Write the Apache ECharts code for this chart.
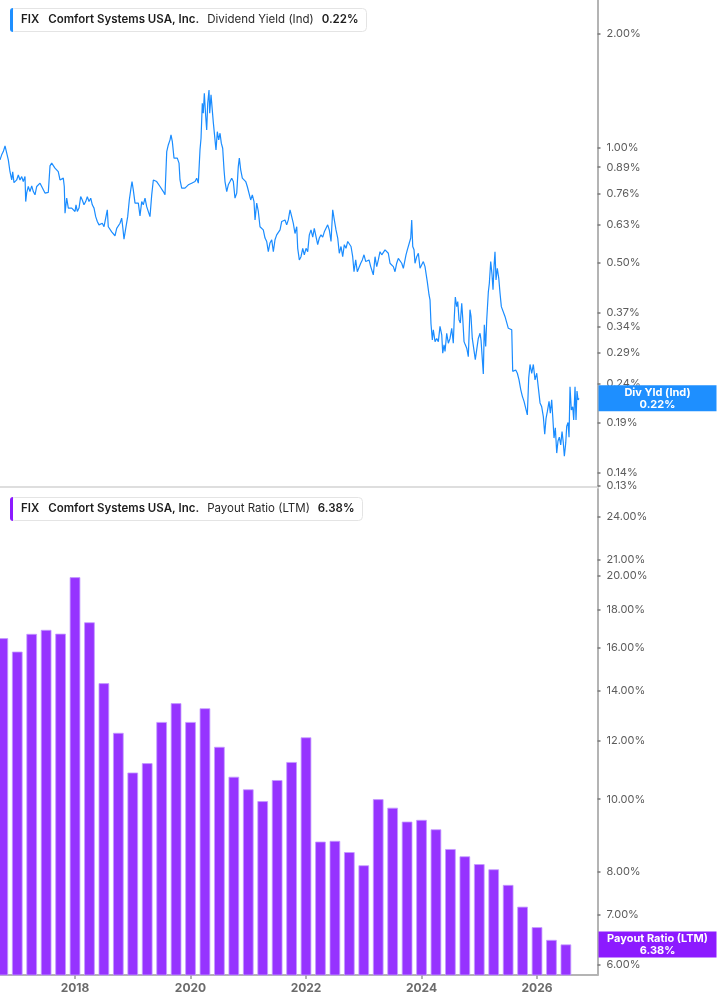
<!DOCTYPE html>
<html>
<head>
<meta charset="utf-8">
<script src="https://cdn.jsdelivr.net/npm/echarts@6/dist/echarts.min.js"></script>
<style>
html,body{margin:0;padding:0;background:#fff;}
#chart{width:717px;height:1005px;}
</style>
</head>
<body>
<div id="chart"></div>
<script>
// ---------- DATA ----------
const ticker = 'FIX';
const company = 'Comfort Systems USA, Inc.';
const yieldName = 'Dividend Yield (Ind)';
const yieldShort = 'Div Yld (Ind)';
const payoutName = 'Payout Ratio (LTM)';

// x positions are decimal years
const divYieldDates = [
2016.701,2016.730,2016.758,2016.788,2016.817,2016.845,2016.874,2016.904,2016.921,2016.943,
2016.990,2017.018,2017.047,2017.077,2017.104,2017.134,2017.146,2017.163,2017.191,2017.220,
2017.250,2017.278,2017.307,2017.337,2017.364,2017.394,2017.423,2017.451,2017.480,2017.510,
2017.537,2017.567,2017.596,2017.624,2017.653,2017.683,2017.710,2017.740,2017.769,2017.797,
2017.814,2017.827,2017.856,2017.884,2017.913,2017.943,2017.970,2018.000,2018.017,2018.040,
2018.069,2018.098,2018.126,2018.155,2018.185,2018.213,2018.242,2018.272,2018.299,2018.329,
2018.358,2018.386,2018.415,2018.445,2018.472,2018.502,2018.531,2018.559,2018.576,2018.606,
2018.635,2018.663,2018.692,2018.722,2018.750,2018.779,2018.808,2018.826,2018.848,2018.883,
2018.912,2018.940,2018.969,2018.987,2019.009,2019.039,2019.068,2019.096,2019.125,2019.155,
2019.182,2019.212,2019.241,2019.269,2019.298,2019.328,2019.356,2019.385,2019.414,2019.442,
2019.472,2019.501,2019.529,2019.558,2019.575,2019.588,2019.615,2019.645,2019.662,2019.685,
2019.714,2019.743,2019.771,2019.801,2019.818,2019.847,2019.875,2019.904,2019.934,2019.962,
2019.991,2020.020,2020.048,2020.078,2020.107,2020.135,2020.164,2020.182,2020.204,2020.221,
2020.239,2020.263,2020.280,2020.298,2020.320,2020.332,2020.355,2020.395,2020.424,2020.441,
2020.464,2020.488,2020.511,2020.533,2020.557,2020.580,2020.597,2020.627,2020.654,2020.684,
2020.713,2020.741,2020.770,2020.800,2020.827,2020.845,2020.869,2020.897,2020.926,2020.956,
2020.983,2021.013,2021.042,2021.070,2021.099,2021.117,2021.146,2021.174,2021.203,2021.233,
2021.260,2021.290,2021.319,2021.347,2021.376,2021.406,2021.434,2021.463,2021.492,2021.520,
2021.550,2021.579,2021.607,2021.636,2021.665,2021.693,2021.723,2021.752,2021.780,2021.809,
2021.839,2021.856,2021.884,2021.913,2021.943,2021.970,2022.000,2022.029,2022.057,2022.086,
2022.116,2022.143,2022.173,2022.202,2022.230,2022.259,2022.289,2022.317,2022.346,2022.375,
2022.403,2022.433,2022.462,2022.490,2022.519,2022.549,2022.576,2022.606,2022.635,2022.663,
2022.692,2022.722,2022.750,2022.779,2022.808,2022.831,2022.860,2022.888,2022.918,2022.947,
2022.975,2023.004,2023.034,2023.061,2023.091,2023.120,2023.148,2023.165,2023.195,2023.224,
2023.252,2023.281,2023.311,2023.338,2023.368,2023.397,2023.425,2023.454,2023.484,2023.512,
2023.541,2023.570,2023.598,2023.627,2023.657,2023.685,2023.714,2023.731,2023.754,2023.783,
2023.813,2023.830,2023.848,2023.870,2023.887,2023.917,2023.945,2023.974,2024.003,2024.031,
2024.060,2024.078,2024.100,2024.130,2024.147,2024.164,2024.187,2024.204,2024.234,2024.263,
2024.291,2024.320,2024.350,2024.367,2024.390,2024.407,2024.436,2024.464,2024.493,2024.523,
2024.550,2024.568,2024.585,2024.609,2024.627,2024.649,2024.672,2024.696,2024.713,2024.736,
2024.758,2024.783,2024.810,2024.839,2024.857,2024.879,2024.909,2024.931,2024.955,2024.983,
2025.013,2025.030,2025.053,2025.070,2025.087,2025.111,2025.129,2025.157,2025.174,2025.198,
2025.221,2025.238,2025.255,2025.272,2025.290,2025.312,2025.337,2025.359,2025.382,2025.416,
2025.445,2025.475,2025.503,2025.532,2025.562,2025.579,2025.601,2025.631,2025.659,2025.688,
2025.718,2025.745,2025.775,2025.803,2025.832,2025.856,2025.879,2025.908,2025.936,2025.965,
2025.995,2026.022,2026.052,2026.081,2026.109,2026.133,2026.156,2026.178,2026.208,2026.230,
2026.254,2026.272,2026.294,2026.317,2026.341,2026.363,2026.386,2026.410,2026.433,2026.455,
2026.473,2026.497,2026.514,2026.537,2026.554,2026.571,2026.594,2026.618,2026.635,2026.658,
2026.675,2026.692,2026.710,2026.727
];
// dividend yield, percent
const divYieldValues = [
0.930,0.959,0.978,1.012,1.000,0.930,0.866,0.824,0.866,0.811,
0.824,0.849,0.824,0.841,0.816,0.841,0.723,0.762,0.792,0.768,
0.795,0.768,0.753,0.792,0.795,0.808,0.792,0.784,0.761,0.768,
0.764,0.897,0.912,0.902,0.885,0.876,0.866,0.824,0.816,0.833,
0.792,0.674,0.738,0.695,0.701,0.695,0.688,0.681,0.709,0.681,
0.695,0.745,0.730,0.709,0.723,0.745,0.723,0.738,0.709,0.695,
0.660,0.641,0.628,0.621,0.634,0.621,0.621,0.688,0.621,0.615,
0.602,0.596,0.588,0.615,0.609,0.634,0.654,0.621,0.576,0.621,
0.660,0.730,0.784,0.816,0.776,0.716,0.709,0.716,0.663,0.723,
0.709,0.738,0.701,0.695,0.660,0.753,0.824,0.833,0.816,0.824,
0.792,0.784,0.768,0.753,0.761,0.978,1.018,1.050,1.082,1.039,
0.940,0.930,0.940,0.912,0.824,0.784,0.792,0.784,0.792,0.800,
0.792,0.808,0.800,0.816,0.833,0.808,0.988,1.060,1.310,1.233,
1.392,1.209,1.115,1.310,1.420,1.233,1.378,1.165,1.050,0.988,
1.103,1.050,1.093,1.029,0.998,0.876,0.816,0.768,0.800,0.816,
0.833,0.816,0.738,0.761,0.893,0.940,0.876,0.833,0.824,0.816,
0.792,0.792,0.730,0.753,0.723,0.647,0.716,0.681,0.621,0.615,
0.609,0.580,0.568,0.534,0.563,0.574,0.534,0.574,0.591,0.591,
0.609,0.641,0.634,0.647,0.628,0.647,0.688,0.660,0.634,0.596,
0.621,0.545,0.508,0.518,0.545,0.524,0.545,0.534,0.591,0.609,
0.583,0.615,0.621,0.557,0.580,0.591,0.583,0.602,0.615,0.628,
0.609,0.568,0.688,0.647,0.609,0.580,0.529,0.551,0.518,0.557,
0.545,0.568,0.574,0.551,0.518,0.473,0.508,0.473,0.478,0.498,
0.508,0.524,0.503,0.498,0.508,0.488,0.473,0.464,0.518,0.488,
0.508,0.534,0.524,0.529,0.540,0.545,0.529,0.498,0.493,0.488,
0.473,0.498,0.513,0.508,0.498,0.483,0.478,0.524,0.540,0.540,
0.580,0.647,0.551,0.540,0.498,0.518,0.529,0.483,0.488,0.503,
0.488,0.493,0.445,0.411,0.399,0.345,0.313,0.333,0.310,0.316,
0.310,0.340,0.323,0.289,0.304,0.292,0.326,0.307,0.316,0.336,
0.307,0.361,0.406,0.383,0.395,0.354,0.347,0.391,0.358,0.310,
0.304,0.298,0.283,0.376,0.361,0.316,0.313,0.278,0.295,0.316,
0.326,0.313,0.278,0.255,0.343,0.301,0.354,0.419,0.441,0.503,
0.464,0.424,0.488,0.534,0.450,0.483,0.455,0.416,0.383,0.380,
0.361,0.365,0.336,0.336,0.333,0.259,0.256,0.261,0.256,0.246,
0.232,0.223,0.216,0.214,0.199,0.249,0.270,0.256,0.270,0.246,
0.256,0.235,0.214,0.209,0.197,0.177,0.195,0.203,0.216,0.201,
0.218,0.197,0.173,0.184,0.158,0.170,0.174,0.166,0.180,0.168,
0.155,0.168,0.186,0.190,0.174,0.236,0.205,0.209,0.193,0.236,
0.193,0.230,0.218,0.220
];

// quarterly payout ratio (LTM), percent
const payoutDates = [
2016.75,2017.00,2017.25,2017.50,2017.75,2018.00,2018.25,2018.50,2018.75,2019.00,
2019.25,2019.50,2019.75,2020.00,2020.25,2020.50,2020.75,2021.00,2021.25,2021.50,
2021.75,2022.00,2022.25,2022.50,2022.75,2023.00,2023.25,2023.50,2023.75,2024.00,
2024.25,2024.50,2024.75,2025.00,2025.25,2025.50,2025.75,2026.00,2026.25,2026.50
];
const payoutValues = [
16.46,15.79,16.68,16.89,16.69,19.88,17.29,14.32,12.28,10.86,
11.18,12.70,13.46,12.70,13.25,11.76,10.72,10.31,9.94,10.61,
11.22,12.11,8.77,8.79,8.49,8.15,10.00,9.74,9.33,9.38,
9.11,8.57,8.38,8.18,8.05,7.67,7.17,6.73,6.47,6.38
];

// tick labels
const yearTicks = [2018, 2020, 2022, 2024, 2026];
const yieldTicks = [0.13, 0.14, 0.19, 0.24, 0.29, 0.34, 0.37, 0.50, 0.63, 0.76, 0.89, 1.00, 2.00];
const payoutTicks = [6, 7, 8, 10, 12, 14, 16, 18, 20, 21, 24];

// axis ranges
const xMin = 2016.701, xMax = 2027.047;
const yieldMin = 0.1287, yieldMax = 2.446;
const payoutMin = 5.804, payoutMax = 26.12;

// ---------- STYLE ----------
const FONT = 'Inter, "Noto Sans", "DejaVu Sans", sans-serif';
const BLUE = '#1a8cff';
const BLUE_TAG = '#1e8fff';
const PURPLE = '#9633ff';
const PURPLE_TAG = '#8c1aff';
const AXIS_GRAY = '#b4b4b4';

const lastYield = divYieldValues[divYieldValues.length - 1];
const lastYieldDate = divYieldDates[divYieldDates.length - 1];
const lastPayout = payoutValues[payoutValues.length - 1];
const lastPayoutDate = payoutDates[payoutDates.length - 1];

function pct(v) { return v.toFixed(2) + '%'; }

function headerTitle(color, measure, value, top) {
  const fs = 11.5;
  return {
    left: 10, top: top,
    text: '{bar| }{tk|' + ticker + '}{nm|' + company + '}{ms|' + measure + '}{val|' + value + '}',
    backgroundColor: '#fff',
    borderColor: '#e4e4e4', borderWidth: 1, borderRadius: 4,
    padding: [0, 8, 0, 0],
    textStyle: {
      fontFamily: FONT,
      rich: {
        bar: { width: 3, height: 24, backgroundColor: color, borderRadius: [3, 0, 0, 3] },
        tk: { fontFamily: FONT, fontSize: fs, fontWeight: 600, color: '#1d1d1d', padding: [0, 0, 0, 8] },
        nm: { fontFamily: FONT, fontSize: fs, fontWeight: 600, color: '#1d1d1d', padding: [0, 0, 0, 9] },
        ms: { fontFamily: FONT, fontSize: fs, fontWeight: 'normal', color: '#2a2a2a', padding: [0, 0, 0, 8] },
        val: { fontFamily: FONT, fontSize: fs, fontWeight: 600, color: '#1d1d1d', padding: [0, 0, 0, 8] }
      }
    }
  };
}

// price-tag style label at the right edge, anchored on the latest value
function tagSeries(xIdx, yIdx, date, value, name, bg) {
  return {
    type: 'line',
    xAxisIndex: xIdx, yAxisIndex: yIdx,
    data: [[date, value]],
    symbol: 'none', showSymbol: false,
    lineStyle: { color: 'rgba(0,0,0,0)', width: 0 },
    silent: true,
    clip: false,
    z: 10,
    markLine: {
      silent: true,
      symbol: ['none', 'none'],
      animation: false,
      lineStyle: { color: 'rgba(0,0,0,0)', width: 0, opacity: 1 },
      data: [{ yAxis: value }],
      label: {
        show: true,
        opacity: 1,
        position: 'end',
        distance: 1,
        formatter: '{t|' + name + '}\n{t|' + pct(value) + '}',
        backgroundColor: bg,
        padding: [1, 0, 1, 0],
        rich: {
          t: { fontFamily: FONT, color: '#fff', fontWeight: 'bold', fontSize: 11, lineHeight: 12, align: 'center', width: 118 }
        }
      }
    }
  };
}

const chart = echarts.init(document.getElementById('chart'), null, { renderer: 'canvas' });

const option = {
  animation: false,
  backgroundColor: '#ffffff',
  textStyle: { fontFamily: FONT },
  title: [
    headerTitle(BLUE_TAG, yieldName, pct(lastYield), 8),
    headerTitle(PURPLE_TAG, payoutName, pct(lastPayout), 497)
  ],
  grid: [
    { left: 0, right: 119.5, top: 0, height: 487, outerBoundsMode: 'none', containLabel: false },
    { left: 0, right: 119.5, top: 489, bottom: 30, outerBoundsMode: 'none', containLabel: false }
  ],
  xAxis: [
    {
      gridIndex: 0, type: 'value', min: xMin, max: xMax,
      axisLine: { show: true, onZero: false, lineStyle: { color: '#dedede', width: 2 } },
      axisTick: { show: false }, axisLabel: { show: false }, splitLine: { show: false }
    },
    {
      gridIndex: 1, type: 'value', min: xMin, max: xMax,
      axisLine: { show: true, onZero: false, lineStyle: { color: AXIS_GRAY, width: 2 } },
      axisTick: { show: true, customValues: yearTicks, length: 4, lineStyle: { color: '#999', width: 1.5 } },
      axisLabel: {
        show: true, customValues: yearTicks,
        formatter: function (v) { return String(Math.round(v)); },
        fontFamily: FONT, fontWeight: 'bold', color: '#6b6b6b', fontSize: 12, margin: 7
      },
      splitLine: { show: false }
    }
  ],
  yAxis: [
    { gridIndex: 0, type: 'log', logBase: 10, min: yieldMin, max: yieldMax, position: 'left', show: false },
    {
      gridIndex: 0, type: 'value', position: 'right',
      min: Math.log10(yieldMin), max: Math.log10(yieldMax),
      axisLine: { show: true, lineStyle: { color: AXIS_GRAY, width: 2 } },
      axisTick: { show: true, inside: false, customValues: yieldTicks.map(Math.log10), length: 3, lineStyle: { color: '#777', width: 1.5 } },
      axisLabel: {
        show: true, customValues: yieldTicks.map(Math.log10),
        formatter: function (v) { return pct(Math.pow(10, v)); },
        fontFamily: FONT, color: '#5c5c5c', fontSize: 11, margin: 9
      },
      splitLine: { show: false }
    },
    { gridIndex: 1, type: 'log', logBase: 10, min: payoutMin, max: payoutMax, position: 'left', show: false },
    {
      gridIndex: 1, type: 'value', position: 'right',
      min: Math.log10(payoutMin), max: Math.log10(payoutMax),
      axisLine: { show: true, lineStyle: { color: AXIS_GRAY, width: 2 } },
      axisTick: { show: true, inside: false, customValues: payoutTicks.map(Math.log10), length: 3, lineStyle: { color: '#777', width: 1.5 } },
      axisLabel: {
        show: true, customValues: payoutTicks.map(Math.log10),
        formatter: function (v) { return pct(Math.pow(10, v)); },
        fontFamily: FONT, color: '#5c5c5c', fontSize: 11, margin: 9
      },
      splitLine: { show: false }
    }
  ],
  series: [
    {
      name: yieldName,
      type: 'line',
      xAxisIndex: 0, yAxisIndex: 0,
      data: divYieldDates.map(function (d, i) { return [d, divYieldValues[i]]; }),
      showSymbol: false, symbol: 'none',
      lineStyle: { color: BLUE, width: 1.2 },
      itemStyle: { color: BLUE },
      z: 3
    },
    {
      name: payoutName,
      type: 'bar',
      xAxisIndex: 1, yAxisIndex: 2,
      data: payoutDates.map(function (d, i) { return [d, payoutValues[i]]; }),
      barWidth: 10.6,
      clip: true,
      itemStyle: { color: PURPLE, borderColor: '#c49bff', borderWidth: 0.8 }
    },
    tagSeries(0, 0, lastYieldDate, lastYield, yieldShort, BLUE_TAG),
    tagSeries(1, 2, lastPayoutDate, lastPayout, payoutName, PURPLE_TAG)
  ]
};

chart.setOption(option);
</script>
</body>
</html>
